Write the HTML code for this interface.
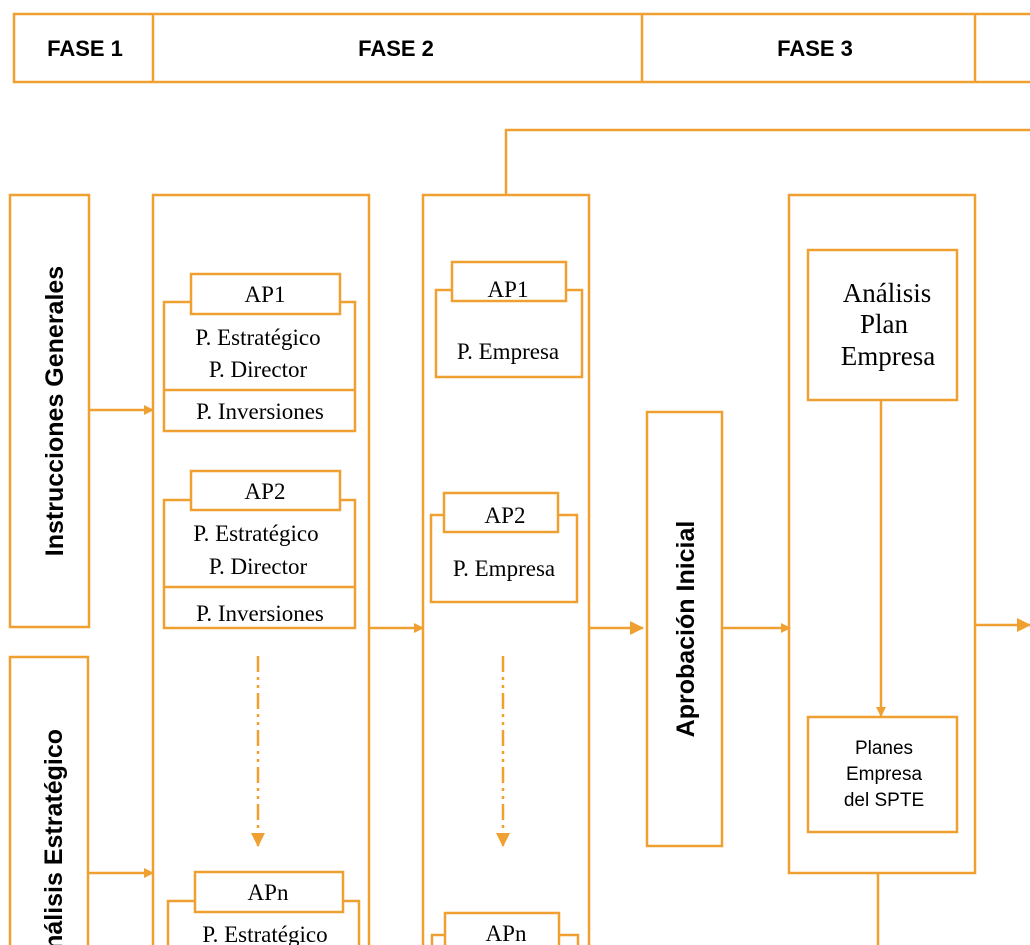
<!DOCTYPE html>
<html><head><meta charset="utf-8"><style>
html,body{margin:0;padding:0;background:#fff;width:1030px;height:945px;overflow:hidden}
svg{display:block}
.s{font-family:"Liberation Serif",serif;font-size:23px;fill:#000;text-anchor:middle}
.h{font-family:"Liberation Sans",sans-serif;font-weight:bold;font-size:22px;fill:#000;text-anchor:middle}
.r{font-family:"Liberation Sans",sans-serif;font-weight:bold;font-size:25px;fill:#000}
.p{font-family:"Liberation Sans",sans-serif;font-size:19px;fill:#000;text-anchor:middle}
</style></head><body>
<svg width="1030" height="945" viewBox="0 0 1030 945" xmlns="http://www.w3.org/2000/svg">
<defs>
<marker id="a" markerWidth="10" markerHeight="10" refX="9" refY="5" orient="auto" markerUnits="userSpaceOnUse"><path d="M0,0 L10,5 L0,10 z" fill="#F0A030"/></marker>
<marker id="b" markerWidth="14" markerHeight="14" refX="13" refY="7" orient="auto" markerUnits="userSpaceOnUse"><path d="M0,0 L14,7 L0,14 z" fill="#F0A030"/></marker>
</defs>
<g fill="none" stroke="#F0A030" stroke-width="2.5">
<!-- header -->
<path d="M1032,14 H14 V82 H1032"/>
<line x1="153" y1="14" x2="153" y2="82"/>
<line x1="642" y1="14" x2="642" y2="82"/>
<line x1="975" y1="14" x2="975" y2="82"/>
<!-- top connector -->
<path d="M506,195 V130 H1032"/>
<!-- left boxes -->
<rect x="10" y="195" width="79" height="432"/>
<path d="M10,960 V657 H88 V960"/>
<!-- columns -->
<path d="M153,960 V195 H369 V960"/>
<path d="M423,960 V195 H589 V960"/>
<rect x="647" y="412" width="75" height="434"/>
<rect x="789" y="195" width="186" height="678"/>
<rect x="808" y="250" width="149" height="150"/>
<rect x="808" y="717" width="149" height="115"/>
<line x1="878" y1="873" x2="878" y2="960"/>
<!-- col2 AP boxes -->
<path d="M191,302 H164 V431 H355 V302 H340"/><line x1="164" y1="390" x2="355" y2="390"/>
<rect x="191" y="274" width="149" height="40" fill="#fff"/>
<path d="M191,500 H164 V628 H355 V500 H340"/><line x1="164" y1="587" x2="355" y2="587"/>
<rect x="191" y="471" width="149" height="39" fill="#fff"/>
<path d="M195,901 H168 V960 M359,960 V901 H343"/>
<rect x="195" y="872" width="148" height="40" fill="#fff"/>
<!-- col3 AP boxes -->
<path d="M452,290 H436 V377 H582 V290 H566"/>
<rect x="452" y="262" width="114" height="39" fill="#fff"/>
<path d="M444,515 H431 V602 H577 V515 H558"/>
<rect x="444" y="493" width="114" height="39" fill="#fff"/>
<path d="M445,935 H432 V960 M578,960 V935 H559"/>
<rect x="445" y="913" width="114" height="40" fill="#fff"/>
<!-- arrows -->
<line x1="89" y1="410" x2="153" y2="410" marker-end="url(#a)"/>
<line x1="88" y1="873" x2="153" y2="873" marker-end="url(#a)"/>
<line x1="369" y1="628" x2="423" y2="628" marker-end="url(#a)"/>
<line x1="589" y1="628" x2="643" y2="628" marker-end="url(#b)"/>
<line x1="722" y1="628" x2="790" y2="628" marker-end="url(#a)"/>
<line x1="975" y1="625" x2="1030" y2="625" marker-end="url(#b)"/>
<line x1="881" y1="400" x2="881" y2="716" marker-end="url(#a)"/>
<line x1="258" y1="656" x2="258" y2="846" stroke-dasharray="16,5,3,5,3,5" marker-end="url(#b)"/>
<line x1="503" y1="656" x2="503" y2="846" stroke-dasharray="16,5,3,5,3,5" marker-end="url(#b)"/>
</g>
<text class="h" x="85" y="56">FASE 1</text>
<text class="h" x="396" y="56">FASE 2</text>
<text class="h" x="815" y="56">FASE 3</text>
<text class="h" x="1030" y="56" style="text-anchor:start">F</text>
<text class="r" transform="translate(63,411) rotate(-90)" text-anchor="middle">Instrucciones Generales</text>
<text class="r" transform="translate(62,729) rotate(-90)" text-anchor="end">Análisis Estratégico</text>
<text class="r" transform="translate(694,629) rotate(-90)" text-anchor="middle">Aprobación Inicial</text>
<text class="s" x="265" y="302">AP1</text>
<text class="s" x="258" y="345">P. Estratégico</text>
<text class="s" x="258" y="377">P. Director</text>
<text class="s" x="260" y="419">P. Inversiones</text>
<text class="s" x="265" y="499">AP2</text>
<text class="s" x="256" y="541">P. Estratégico</text>
<text class="s" x="258" y="574">P. Director</text>
<text class="s" x="260" y="621">P. Inversiones</text>
<text class="s" x="268" y="900">APn</text>
<text class="s" x="265" y="942">P. Estratégico</text>
<text class="s" x="508" y="297">AP1</text>
<text class="s" x="508" y="359">P. Empresa</text>
<text class="s" x="505" y="523">AP2</text>
<text class="s" x="504" y="576">P. Empresa</text>
<text class="s" x="506" y="941">APn</text>
<text class="s" x="887" y="302" style="font-size:27px">Análisis</text>
<text class="s" x="884" y="333" style="font-size:27px">Plan</text>
<text class="s" x="888" y="365" style="font-size:27px">Empresa</text>
<text class="p" x="884" y="754">Planes</text>
<text class="p" x="884" y="780">Empresa</text>
<text class="p" x="884" y="806">del SPTE</text>
</svg>
</body></html>
